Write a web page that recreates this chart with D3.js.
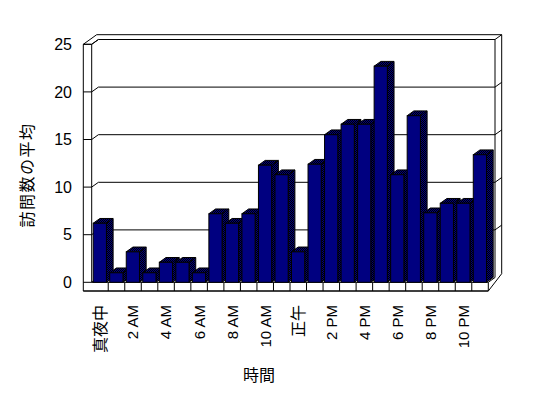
<!DOCTYPE html>
<html>
<head>
<meta charset="utf-8">
<script src="https://cdn.jsdelivr.net/npm/d3@7"></script>
<style>
  body { margin: 0; background: #fff; }
  text { font-family: "Liberation Sans", "Noto Sans CJK JP", sans-serif; fill: #000; }
</style>
</head>
<body>
<div class="chart"></div>
<script>
// hourly categories, average visits
let categories = ['真夜中', '1 AM', '2 AM', '3 AM', '4 AM', '5 AM', '6 AM', '7 AM', '8 AM', '9 AM', '10 AM', '11 AM',
  '正午', '1 PM', '2 PM', '3 PM', '4 PM', '5 PM', '6 PM', '7 PM', '8 PM', '9 PM', '10 PM', '11 PM'];
let visits = [6.2, 1.0, 3.2, 1.0, 2.1, 2.1, 1.0, 7.2, 6.2, 7.2, 12.3, 11.3,
  3.2, 12.4, 15.5, 16.6, 16.6, 22.7, 11.3, 17.5, 7.3, 8.3, 8.3, 13.4];
let tickLabels = ['真夜中', '2 AM', '4 AM', '6 AM', '8 AM', '10 AM', '正午', '2 PM', '4 PM', '6 PM', '8 PM', '10 PM'];
let yTicks = [0, 5, 10, 15, 20, 25];
let yTitle = '訪問数の平均';
let xTitle = '時間';

let width = 548, height = 398;
let plotLeft = 91.7, plotRight = 488.3, base = 282.3, plotTop = 44.3;
let wallX = 83.3, floorBottom = 291;
let dx = 6.7, dy = -4.8;   // one step of depth

let svg = d3.select('.chart')
  .append('svg')
  .attr('width', width)
  .attr('height', height);

let defs = svg.append('defs');
let pat = defs.append('pattern')
  .attr('id', 'dither')
  .attr('width', 2).attr('height', 2)
  .attr('patternUnits', 'userSpaceOnUse');
pat.append('rect').attr('width', 2).attr('height', 2).attr('fill', '#000080');
pat.append('rect').attr('width', 1).attr('height', 1).attr('fill', '#000');
pat.append('rect').attr('x', 1).attr('y', 1).attr('width', 1).attr('height', 1).attr('fill', '#000');

let yScale = d3.scaleLinear().domain([0, 25]).range([base, plotTop]);
let xScale = d3.scaleBand().domain(categories).range([plotLeft, plotRight]);

let frame = svg.append('g')
  .attr('fill', 'none')
  .attr('stroke', '#000')
  .attr('stroke-width', 1);

function line(pts) {
  frame.append('path').attr('d', d3.line()(pts));
}

// outline of walls and floor
frame.append('path')
  .attr('fill', '#fff')
  .attr('d', d3.line()([[wallX, floorBottom], [wallX, plotTop], [wallX + 2 * dx, plotTop + 2 * dy],
    [plotRight + 2 * dx, plotTop + 2 * dy], [plotRight + 2 * dx, base + 2 * dy + 1], [plotRight, floorBottom]]) + 'Z');

// back wall inner face
line([[plotLeft + dx, yScale(25) + dy], [plotRight + dx, yScale(25) + dy], [plotRight + dx, base + dy]]);
line([[plotRight + dx, yScale(25) + dy], [plotRight + 2 * dx, yScale(25) + 2 * dy]]);
// left wall
line([[wallX, plotTop], [plotLeft, plotTop], [plotLeft + dx, plotTop + dy]]);
line([[plotLeft, plotTop], [plotLeft, base]]);
// floor
line([[plotLeft, base], [plotRight, base], [plotRight + dx, base + dy]]);
line([[plotRight, base], [plotRight, floorBottom]]);
line([[wallX, floorBottom], [plotRight, floorBottom]]);

// gridlines
yTicks.forEach(function(v) {
  let y = yScale(v);
  line([[wallX, y], [plotLeft, y], [plotLeft + dx, y + dy]]);
  if (v > 0 && v < 25) {
    line([[plotLeft + dx, y + dy], [plotRight + dx, y + dy], [plotRight + 2 * dx, y + 2 * dy]]);
  }
});

// category dividers on the floor edge
categories.forEach(function(c, i) {
  if (i > 0) line([[xScale(c), base], [xScale(c), floorBottom]]);
});

// bars
let bw = xScale.bandwidth() * 0.8;
let bars = svg.append('g').attr('stroke', '#000').attr('stroke-width', 1);
categories.forEach(function(c, i) {
  let x0 = xScale(c) + 1.5, x1 = x0 + bw, y = yScale(visits[i]);
  let g = bars.append('g');
  g.append('path')
    .attr('fill', 'url(#dither)')
    .attr('d', d3.line()([[x0, y], [x0 + dx, y + dy], [x1 + dx, y + dy], [x1 + dx, base + dy], [x1, base], [x1, y]]) + 'Z');
  g.append('path')
    .attr('fill', 'none')
    .attr('d', d3.line()([[x1, y], [x1 + dx, y + dy]]));
  g.append('rect')
    .attr('x', x0).attr('y', y)
    .attr('width', bw).attr('height', base - y)
    .attr('fill', '#000080');
});

// y tick labels
svg.append('g').selectAll('text')
  .data(yTicks)
  .join('text')
  .attr('x', 72)
  .attr('y', d => yScale(d))
  .attr('dy', '0.36em')
  .attr('text-anchor', 'end')
  .style('font-size', '16px')
  .text(d => d);

// category labels
svg.append('g').selectAll('text')
  .data(tickLabels)
  .join('text')
  .attr('transform', d => 'translate(' + (xScale(d) + xScale.bandwidth() / 2) + ',305) rotate(-90)')
  .attr('dy', '0.36em')
  .attr('text-anchor', 'end')
  .style('font-size', d => /[A-Z]/.test(d) ? '15px' : '16px')
  .text(d => d);

// axis titles
svg.append('text')
  .attr('transform', 'translate(27,175) rotate(-90)')
  .attr('dy', '0.36em')
  .attr('text-anchor', 'middle')
  .style('font-size', '16px')
  .style('letter-spacing', '1.5px')
  .text(yTitle);

svg.append('text')
  .attr('x', 259)
  .attr('y', 375)
  .attr('dy', '0.36em')
  .attr('text-anchor', 'middle')
  .style('font-size', '16px')
  .text(xTitle);
</script>
</body>
</html>
